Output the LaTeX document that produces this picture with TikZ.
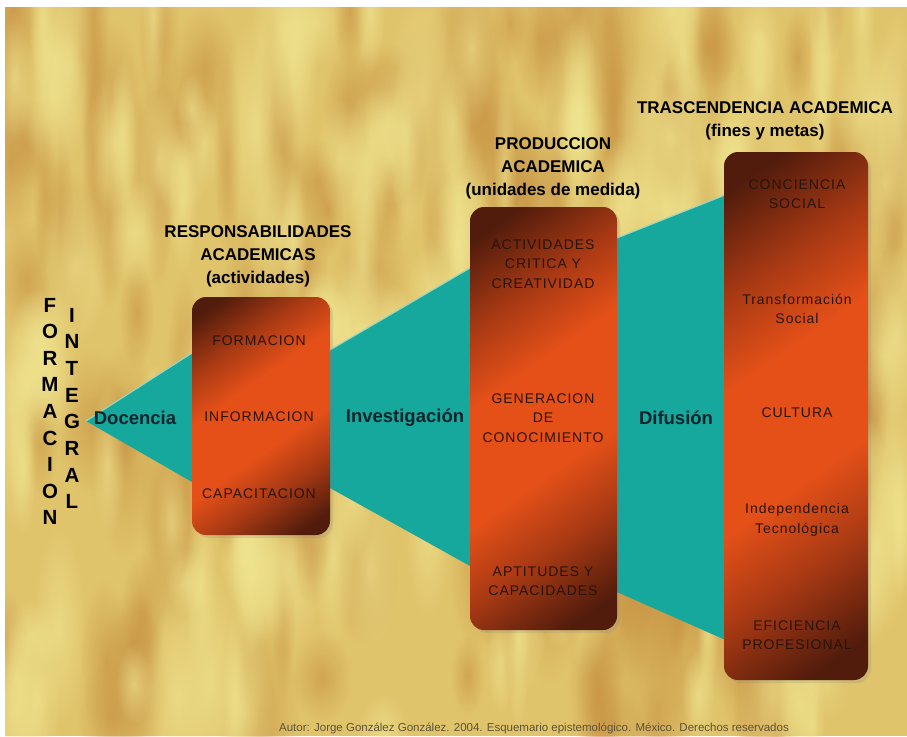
\documentclass[tikz,border=0pt]{standalone}
\usepackage{fontspec}
\setmainfont{Liberation Sans}
\newfontfamily\spacedfont[LetterSpace=7]{Liberation Sans}
\usetikzlibrary{fadings, shadows}

\definecolor{parchment}{RGB}{224,196,108}
\definecolor{parchlight}{RGB}{242,232,148}
\definecolor{parchdark}{RGB}{196,140,62}
\definecolor{wedgeteal}{RGB}{22,167,157}
\definecolor{wedgeedge}{RGB}{150,215,190}
\definecolor{boxorange}{RGB}{228,80,24}
\definecolor{boxmid}{RGB}{170,58,20}
\definecolor{boxdark}{RGB}{82,28,12}
\definecolor{boxink}{RGB}{40,20,10}
\definecolor{flowink}{RGB}{12,36,44}
\definecolor{footink}{RGB}{95,82,55}

\pgfdeclareverticalshading{boxglow}{100bp}{color(0bp)=(boxdark); color(20bp)=(boxdark);
	color(32bp)=(boxmid); color(42bp)=(boxorange); color(58bp)=(boxorange);
	color(68bp)=(boxmid); color(80bp)=(boxdark); color(100bp)=(boxdark)}
\tikzfading[name=softblob, inner color=transparent!0, outer color=transparent!100]

\begin{document}
\begin{tikzpicture}[x=1pt,y=-1pt,
	box/.style={rounded corners=14pt, inner sep=0pt, outer sep=0pt, shading=boxglow, shading angle=35,
		drop shadow={shadow xshift=3pt, shadow yshift=-3pt, opacity=0.2}},
	boxtext/.style={font=\spacedfont\fontsize{14}{19.5}\selectfont, text=boxink, align=center},
	head/.style={font=\bfseries\fontsize{17}{23}\selectfont, text=black, align=center},
	flow/.style={font=\bfseries\fontsize{18.5}{22}\selectfont, text=flowink},
	letter/.style={font=\bfseries\fontsize{20.5}{22}\selectfont, text=black, inner sep=0pt},
	patch/.style={path fading=softblob}]
	\useasboundingbox (0,0) rectangle (907,736);
	
	%background
	\fill[white] (0,0) rectangle (907,736);
	\fill[parchment] (5,7) rectangle (907,736);
	\pgfmathsetseed{11}
	\begin{scope}
		\clip (5,7) rectangle (907,736);
		\foreach \i in {1,...,150}{
			\pgfmathsetmacro{\cx}{5+902*rnd}
			\pgfmathsetmacro{\cy}{7+729*rnd}
			\pgfmathsetmacro{\rx}{12+30*rnd}
			\pgfmathsetmacro{\ry}{40+80*rnd}
			\fill[parchdark, fill opacity=0.55, patch] (\cx,\cy) ellipse ({\rx} and {\ry});
		}
		\foreach \i in {1,...,150}{
			\pgfmathsetmacro{\cx}{5+902*rnd}
			\pgfmathsetmacro{\cy}{7+729*rnd}
			\pgfmathsetmacro{\rx}{10+28*rnd}
			\pgfmathsetmacro{\ry}{35+80*rnd}
			\fill[parchlight, fill opacity=0.6, patch] (\cx,\cy) ellipse ({\rx} and {\ry});
		}
	\end{scope}
	
	%wedge
	\fill[wedgeteal] (86,421) -- (192,353) -- (330,350) -- (470,268) -- (617,238) -- (730,193)
		-- (730,642) -- (617,592) -- (470,566) -- (330,488) -- (192,482) -- cycle;
	\draw[wedgeedge, line width=1.2pt] (192,353) -- (86,421);
	\draw[wedgeedge, line width=1.2pt] (330,350) -- (470,268);
	\draw[wedgeedge, line width=1.2pt] (617,238) -- (730,193);
	
	%boxes
	\node[box, minimum width=138, minimum height=238] (resp) at (261,416) {};
	\node[box, minimum width=147, minimum height=423] (prod) at (543.5,418.5) {};
	\node[box, minimum width=144, minimum height=528] (tras) at (796,416) {};
	
	%box texts
	\node[boxtext] (formacion)   at (259,341) {FORMACION};
	\node[boxtext] (informacion) at (259,417) {INFORMACION};
	\node[boxtext] (capacitacion) at (259,494) {CAPACITACION};
	%
	\node[boxtext] (actividades) at (543,264) {ACTIVIDADES\\CRITICA Y\\CREATIVIDAD};
	\node[boxtext] (generacion)  at (543,418) {GENERACION\\DE\\CONOCIMIENTO};
	\node[boxtext] (aptitudes)   at (543,581) {APTITUDES Y\\CAPACIDADES};
	%
	\node[boxtext] (conciencia)  at (797,194) {CONCIENCIA\\SOCIAL};
	\node[boxtext] (transform)   at (797,309) {Transformación\\Social};
	\node[boxtext] (cultura)     at (797,413) {CULTURA};
	\node[boxtext] (independ)    at (797,520) {Independencia\\Tecnológica};
	\node[boxtext] (eficiencia)  at (797,635) {EFICIENCIA\\PROFESIONAL};
	
	%headings
	\node[head] (resphead) at (258,256) {RESPONSABILIDADES\\ACADEMICAS\\(actividades)};
	\node[head] (prodhead) at (553,168) {PRODUCCION\\ACADEMICA\\(unidades de medida)};
	\node[head] (trashead) at (765,121) {TRASCENDENCIA ACADEMICA\\(fines y metas)};
	
	%flow labels
	\node[flow] (docencia) at (135,418) {Docencia};
	\node[flow] (investig) at (405,418) {Investigación};
	\node[flow] (difusion) at (676,418) {Difusión};
	
	%vertical words
	\foreach \l [count=\k] in {F,O,R,M,A,C,I,O,N}
		\node[letter] (form\k) at (50,{305+26.6*(\k-1)}) {\l};
	\foreach \l [count=\k] in {I,N,T,E,G,R,A,L}
		\node[letter] (integ\k) at (72,{315+26.7*(\k-1)}) {\l};
	
	%footer
	\node[font=\fontsize{11.5}{13}\selectfont, text=footink] (autor) at (534,728)
		{Autor: Jorge González González. 2004. Esquemario epistemológico. México. Derechos reservados};
\end{tikzpicture}
\end{document}
